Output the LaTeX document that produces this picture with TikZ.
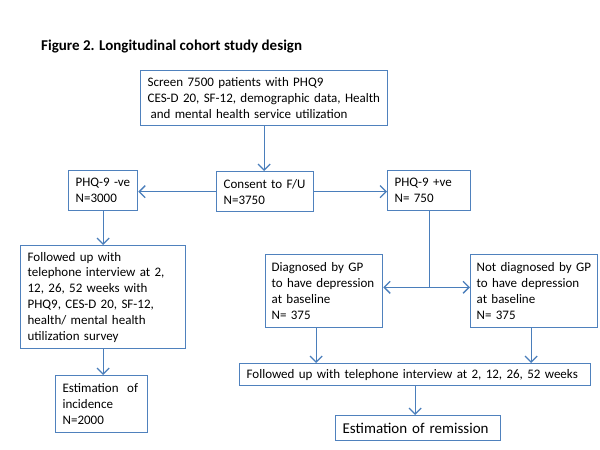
\documentclass[tikz,border=0pt]{standalone}
\usepackage{fontspec}
\setmainfont{Carlito}
\usepackage{tikz}
\usetikzlibrary{positioning, arrows.meta}
\usepackage{xcolor}
\definecolor{FrameBlue}{HTML}{4F81BD}
\definecolor{LinkBlue}{HTML}{4A7EBB}

\tikzset{
  box/.style={draw=FrameBlue, line width=1.3pt, fill=white, anchor=north west,
    align=left, inner xsep=7pt, inner ysep=2pt, font=\fontsize{13}{15.8}\selectfont},
  link/.style={draw=LinkBlue, line width=1.3pt},
  arr/.style={link, -{Straight Barb[length=6pt, width=12pt]}}
}

\begin{document}
\begin{tikzpicture}[x=1pt, y=-1pt]
  \fill[white] (0,0) rectangle (600,450);
  \useasboundingbox (0,0) rectangle (600,450);
  \node[anchor=west, inner sep=0pt, font=\bfseries\fontsize{15}{18}\selectfont] (title) at (41,47) {Figure 2. Longitudinal cohort study design};

  % screening and consent
  \node[box, text width=233pt, minimum height=55pt] (screen) at (140,70)
    {Screen 7500 patients with PHQ9\\CES-D 20, SF-12, demographic data, Health\\\hspace*{3pt}and mental health service utilization};
  \node[box, text width=83pt, minimum height=40pt] (consent) at (216,171) {Consent to F/U\\N=3750};
  \node[box, text width=55pt, minimum height=40pt] (neg) at (68,170) {PHQ-9 -ve\\N=3000};
  \node[box, text width=69pt, minimum height=40pt] (pos) at (387,170) {PHQ-9 +ve\\N= 750};

  % negative arm
  \node[box, text width=151pt, minimum height=103pt] (folneg) at (20,245)
    {Followed up with\\telephone interview at 2,\\12, 26, 52 weeks with\\PHQ9, CES-D 20, SF-12,\\health/ mental health\\utilization survey};
  \node[box, text width=78pt, minimum height=57pt] (inc) at (55,375) {Estimation \ of\\incidence\\N=2000};

  % positive arm
  \node[box, text width=105pt, inner xsep=6pt, minimum height=73pt] (diag) at (265,254)
    {Diagnosed by GP\\to have depression\\at baseline\\N= 375};
  \node[box, text width=119pt, inner xsep=4pt, minimum height=73pt] (nodiag) at (470,254)
    {\hspace*{2pt}Not diagnosed by GP\\\hspace*{2pt}to have depression\\\hspace*{2pt}at baseline\\\hspace*{2pt}N= 375};
  \node[box, text width=337pt, minimum height=22pt] (folpos) at (239,363)
    {Followed up with telephone interview at 2, 12, 26, 52 weeks};
  \node[box, text width=151pt, minimum height=25pt, font=\fontsize{15}{18}\selectfont] (rem) at (335,415)
    {Estimation of remission};

  \draw[arr] (screen.south) -- (screen.south |- consent.north);
  \draw[arr] (consent.west) -- (consent.west -| neg.east);
  \draw[arr] (consent.east) -- (consent.east -| pos.west);
  \draw[arr] (neg.south) -- (neg.south |- folneg.north);
  \draw[arr] (folneg.south) -- (folneg.south |- inc.north);

  \path (pos.south) ++(0,76) coordinate (split);
  \draw[link] (pos.south) -- (split);
  \draw[arr] (split) -- (split -| diag.east);
  \draw[arr] (split) -- (split -| nodiag.west);

  \coordinate (dgout) at ([xshift=-8pt]diag.south);
  \coordinate (ndout) at ([xshift=-3pt]nodiag.south);
  \draw[arr] (dgout) -- (dgout |- folpos.north);
  \draw[arr] (ndout) -- (ndout |- folpos.north);
  \draw[arr] (folpos.south) -- (folpos.south |- rem.north);
\end{tikzpicture}
\end{document}
